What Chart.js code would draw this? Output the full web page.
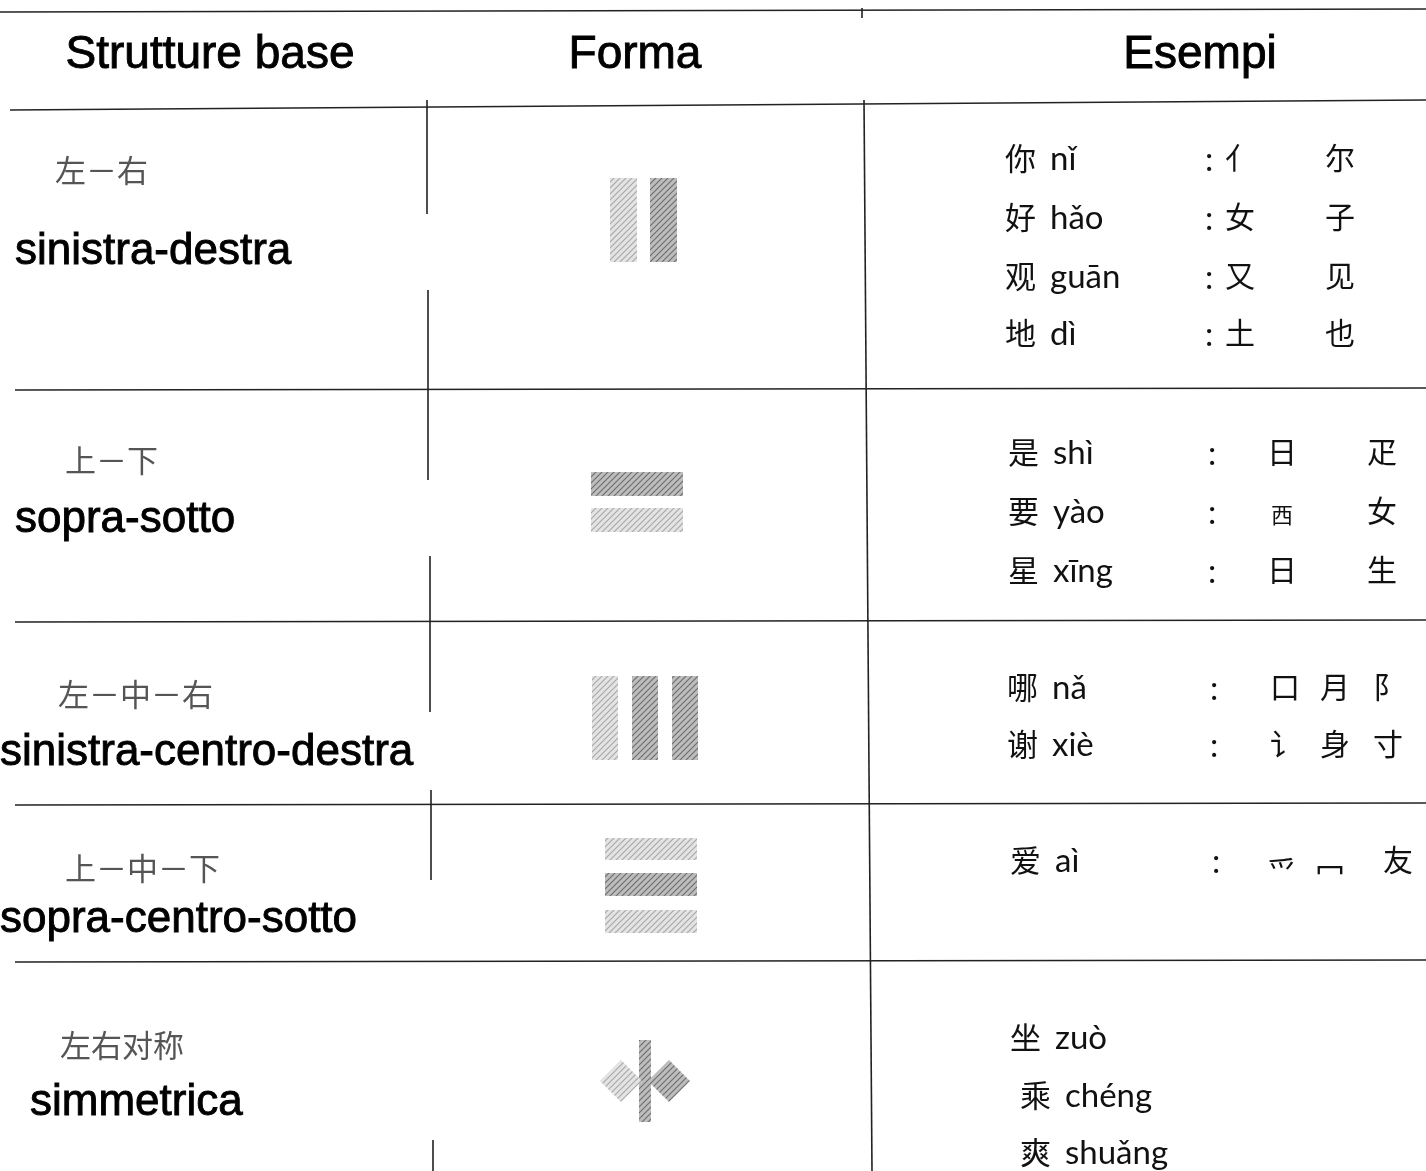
<!DOCTYPE html>
<html>
<head>
<meta charset="utf-8">
<script src="https://cdn.jsdelivr.net/npm/chart.js@4.4.1/dist/chart.umd.min.js"></script>
<style>
    html, body { margin: 0; padding: 0; background: #fff; overflow: hidden; }
    canvas { display: block; }
</style>
</head>
<body>
<canvas id="TabellaStrutture" width="1426" height="1171"></canvas>
<script>
// dati della tabella
var Intestazioni = ['Strutture base', 'Forma', 'Esempi']
var StruttureCinese = ['左－右', '上－下', '左－中－右', '上－中－下', '左右对称']
var StruttureItaliano = ['sinistra-destra', 'sopra-sotto', 'sinistra-centro-destra', 'sopra-centro-sotto', 'simmetrica']
var TipoForma = ['LR', 'TB', 'LMR', 'TMB', 'SYM']
var EsempiCarattere = [['你', '好', '观', '地'], ['是', '要', '星'], ['哪', '谢'], ['爱'], ['坐', '乘', '爽']]
var EsempiPinyin = [['nǐ', 'hǎo', 'guān', 'dì'], ['shì', 'yào', 'xīng'], ['nǎ', 'xiè'], ['aì'], ['zuò', 'chéng', 'shuǎng']]
var EsempiComponenti = [
    [['亻', '尔'], ['女', '子'], ['又', '见'], ['土', '也']],
    [['日', '疋'], ['西', '女'], ['日', '生']],
    [['口', '月', '阝'], ['讠', '身', '寸']],
    [['爫', '冖', '友']],
    [[], [], []]
]

// layout (unità della scala = pixel della tabella)
var BordiRighe = [105, 390, 622, 805, 962, 1171]
var CineseX = [55, 65, 58, 65, 60]
var CineseY = [170, 460, 694, 868, 1045]
var ItalianoX = [15, 15, 0, 0, 30]
var ItalianoY = [252, 520, 753, 920, 1103]
var EsempiY = [[158, 217, 276, 333], [452, 511, 570], [687, 744], [860], [1037, 1095, 1152]]
var EsempiX = [[1005, 1005, 1005, 1005], [1008, 1008, 1008], [1007, 1007], [1010], [1010, 1020, 1020]]
var DuePuntiX = [1205, 1208, 1210, 1212]
var ComponentiX = [[1240, 1340], [1282, 1382], [1285, 1335, 1388], [1282, 1330, 1398]]
var FormaCentro = [[643, 220], [637, 502], [645, 718], [651, 885], [645, 1081]]
// componenti che il font disegna nella parte alta del riquadro
var ComponentiAlti = ['爫', '冖']

var canvasPattern = function (light) {
    var c = document.createElement('canvas')
    c.width = 6; c.height = 6
    var g = c.getContext('2d')
    g.fillStyle = light ? '#e4e4e4' : '#bdbdbd'
    g.fillRect(0, 0, 6, 6)
    g.strokeStyle = light ? '#a8a8a8' : '#6f6f6f'
    g.lineWidth = 1.2
    g.beginPath()
    g.moveTo(0, 6); g.lineTo(6, 0)
    g.moveTo(-3, 3); g.lineTo(3, -3)
    g.moveTo(3, 9); g.lineTo(9, 3)
    g.stroke()
    return c
}

// linee della tabella come dataset di tipo line
var Regole = []
Regole.push([[0, 12], [1426, 9]])
Regole.push([[10, 110], [1426, 100]])
for (var r = 1; r < BordiRighe.length - 1; r++) {
    Regole.push([[15, BordiRighe[r]], [1426, BordiRighe[r] - 2]])
}
Regole.push([[427, 100], [427, 214]])
Regole.push([[428, 290], [428, 480]])
Regole.push([[430, 556], [430, 712]])
Regole.push([[431, 790], [431, 880]])
Regole.push([[433, 1140], [433, 1171]])
Regole.push([[864, 100], [872, 1171]])
Regole.push([[862, 8], [862, 18]])

var datasetsRegole = Regole.map(function (seg) {
    return {
        type: 'line',
        data: seg.map(function (p) { return { x: p[0], y: p[1] } }),
        borderColor: '#222',
        borderWidth: 1.6,
        pointRadius: 0,
        fill: false,
    }
})

function testoPieno(ctx, t, x, y) {
    ctx.fillText(t, x, y)
    ctx.strokeText(t, x, y)
}

var pluginTabella = {
    id: 'tabella',
    afterDatasetsDraw: function (chart) {
        var ctx = chart.ctx
        var sx = chart.scales.x, sy = chart.scales.y
        var X = function (v) { return sx.getPixelForValue(v) }
        var Y = function (v) { return sy.getPixelForValue(v) }
        ctx.save()
        ctx.textBaseline = 'middle'
        ctx.strokeStyle = '#000'
        ctx.lineWidth = 0.9

        // intestazioni
        ctx.fillStyle = '#000'
        ctx.font = '46px "Liberation Sans", Arial, sans-serif'
        ctx.textAlign = 'center'
        var centriIntest = [210, 635, 1200]
        Intestazioni.forEach(function (t, i) { testoPieno(ctx, t, X(centriIntest[i]), Y(55)) })

        ctx.textAlign = 'left'
        for (var i = 0; i < StruttureCinese.length; i++) {
            ctx.fillStyle = '#555'
            ctx.font = '31px "Noto Sans CJK SC"'
            ctx.fillText(StruttureCinese[i], X(CineseX[i]), Y(CineseY[i]))
            ctx.fillStyle = '#000'
            ctx.font = '44px "Liberation Sans", Arial, sans-serif'
            testoPieno(ctx, StruttureItaliano[i], X(ItalianoX[i]), Y(ItalianoY[i]))

            // esempi
            for (var j = 0; j < EsempiCarattere[i].length; j++) {
                var y = Y(EsempiY[i][j])
                ctx.fillStyle = '#111'
                ctx.font = '31px "Noto Sans CJK SC"'
                ctx.fillText(EsempiCarattere[i][j], X(EsempiX[i][j]), y)
                ctx.font = '33px Lato, "Open Sans", sans-serif'
                ctx.fillText(EsempiPinyin[i][j], X(EsempiX[i][j] + 45), y + 1)
                var comp = EsempiComponenti[i][j]
                if (comp.length) {
                    ctx.fillText(':', X(DuePuntiX[i]), y + 2)
                    ctx.textAlign = 'center'
                    comp.forEach(function (c, k) {
                        var piccolo = (c === '西')
                        ctx.font = (piccolo ? '22px' : '30px') + ' "Noto Sans CJK SC"'
                        var dy = ComponentiAlti.indexOf(c) >= 0 ? 12 : (piccolo ? 4 : 0)
                        ctx.fillText(c, X(ComponentiX[i][k]), y + dy)
                    })
                    ctx.textAlign = 'left'
                }
            }

            // forma
            disegnaForma(ctx, TipoForma[i], X, Y, FormaCentro[i])
        }
        ctx.restore()
    }
}

var patChiaro, patScuro
function disegnaForma(ctx, tipo, X, Y, c) {
    if (!patChiaro) {
        patChiaro = ctx.createPattern(canvasPattern(true), 'repeat')
        patScuro = ctx.createPattern(canvasPattern(false), 'repeat')
    }
    var rett = function (x0, y0, x1, y1, chiaro) {
        ctx.fillStyle = chiaro ? patChiaro : patScuro
        ctx.fillRect(X(x0), Y(y0), X(x1) - X(x0), Y(y1) - Y(y0))
    }
    var cx = c[0], cy = c[1]
    if (tipo === 'LR') {
        rett(cx - 33, cy - 42, cx - 6, cy + 42, true)
        rett(cx + 7, cy - 42, cx + 34, cy + 42, false)
    } else if (tipo === 'TB') {
        rett(cx - 46, cy - 30, cx + 46, cy - 6, false)
        rett(cx - 46, cy + 6, cx + 46, cy + 30, true)
    } else if (tipo === 'LMR') {
        rett(cx - 53, cy - 42, cx - 27, cy + 42, true)
        rett(cx - 13, cy - 42, cx + 13, cy + 42, false)
        rett(cx + 27, cy - 42, cx + 53, cy + 42, false)
    } else if (tipo === 'TMB') {
        rett(cx - 46, cy - 47, cx + 46, cy - 25, true)
        rett(cx - 46, cy - 12, cx + 46, cy + 11, false)
        rett(cx - 46, cy + 25, cx + 46, cy + 48, true)
    } else if (tipo === 'SYM') {
        rett(cx - 6, cy - 41, cx + 6, cy + 41, false)
        var rombo = function (dx, chiaro) {
            ctx.fillStyle = chiaro ? patChiaro : patScuro
            ctx.beginPath()
            ctx.moveTo(X(cx + dx - 21), Y(cy))
            ctx.lineTo(X(cx + dx), Y(cy - 21))
            ctx.lineTo(X(cx + dx + 21), Y(cy))
            ctx.lineTo(X(cx + dx), Y(cy + 21))
            ctx.closePath()
            ctx.fill()
        }
        rombo(-24, true)
        rombo(24, false)
    }
}

var config_Tabella = {
    type: 'scatter',
    data: { datasets: datasetsRegole },
    plugins: [pluginTabella],
    options: {
        responsive: false,
        animation: false,
        events: [],
        layout: { padding: 0 },
        plugins: {
            legend: { display: false },
            tooltip: { enabled: false },
            title: { display: false },
        },
        scales: {
            x: { type: 'linear', min: 0, max: 1426, display: false },
            y: { type: 'linear', min: 0, max: 1171, reverse: true, display: false },
        }
    },
}

var TabellaElement = document.getElementById('TabellaStrutture').getContext('2d')
new Chart(TabellaElement, config_Tabella)
</script>
</body>
</html>
